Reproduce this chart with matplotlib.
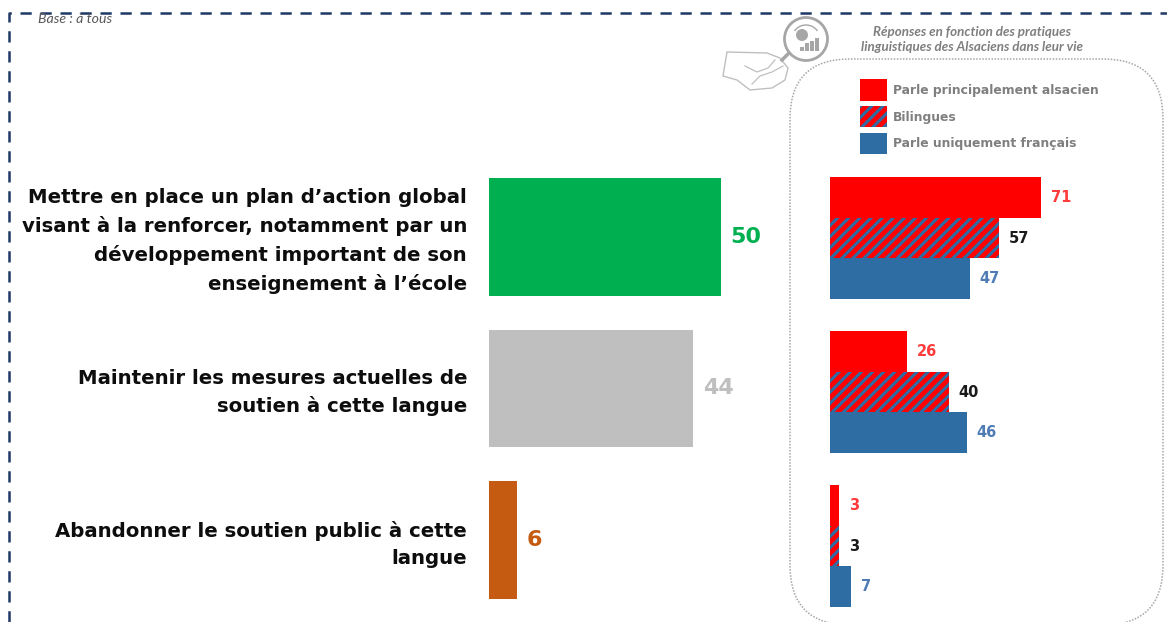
import matplotlib
matplotlib.use('Agg')
import matplotlib.pyplot as plt
from matplotlib.patches import Arc, Circle, PathPatch, Polygon, Rectangle
from matplotlib.path import Path

W, H = 1167, 622

# --- data ---
categories = [
    "Mettre en place un plan d’action global\nvisant à la renforcer, notamment par un\ndéveloppement important de son\nenseignement à l’école",
    "Maintenir les mesures actuelles de\nsoutien à cette langue",
    "Abandonner le soutien public à cette\nlangue",
]
totals = [50, 44, 6]
total_colors = ['#00B050', '#BFBFBF', '#C55A11']

groups = ['Parle principalement alsacien', 'Bilingues', 'Parle uniquement français']
alsacien = [71, 26, 3]
bilingues = [57, 40, 3]
francais = [47, 46, 7]

RED = '#FF0000'
BLUE = '#2E6DA4'
GREY = '#7F7F7F'
plt.rcParams['hatch.linewidth'] = 2.2


def px_axes(fig, x0, y0, x1, y1):
    # axes from pixel box (y from the top)
    return fig.add_axes([x0 / W, 1 - y1 / H, (x1 - x0) / W, (y1 - y0) / H])


fig = plt.figure(figsize=(W / 100, H / 100), dpi=100)

# overlay in pixels for frame and decoration
bg = px_axes(fig, 0, 0, W, H)
bg.set_xlim(0, W)
bg.set_ylim(H, 0)
bg.axis('off')
bg.plot([9, 9, W], [H, 13, 13], color='#1F3864', lw=1.8, dashes=(4.5, 3.5), clip_on=False)
bg.text(38, 19, 'Base : à tous', fontsize=10.2, style='italic', color='#595959',
        family='Lato', va='center')
bg.text(972, 32, 'Réponses en fonction des pratiques', fontsize=9.6, style='italic', weight='bold',
        color=GREY, family='Lato', ha='center', va='center')
bg.text(972, 47, 'linguistiques des Alsaciens dans leur vie', fontsize=9.6, style='italic', weight='bold',
        color=GREY, family='Lato', ha='center', va='center')

# rounded dotted box, open at the bottom edge of the figure
l, t, r, b, rad = 790, 59, 1163, 625, 60
verts = [(l + rad, b), (l, b), (l, b - rad), (l, t + rad), (l, t), (l + rad, t), (r - rad, t),
         (r, t), (r, t + rad), (r, b - rad), (r, b), (r - rad, b)]
codes = [Path.MOVETO, Path.CURVE3, Path.CURVE3, Path.LINETO, Path.CURVE3, Path.CURVE3, Path.LINETO,
         Path.CURVE3, Path.CURVE3, Path.LINETO, Path.CURVE3, Path.CURVE3]
bg.add_patch(PathPatch(Path(verts, codes), fc='none', ec='#A6A6A6', lw=1.1, ls=(0, (1, 1))))

# loupe and hand icon
bg.add_patch(Polygon([(723, 76), (727, 52), (767, 53), (780, 58), (788, 68), (785, 80),
                      (772, 88), (750, 90), (737, 80)],
                     fc='white', ec='#BFBFBF', lw=1))
bg.plot([745, 757, 768, 775], [66, 72, 68, 60], color='#BFBFBF', lw=0.9)
bg.plot([752, 760, 772, 783], [84, 76, 72, 66], color='#BFBFBF', lw=0.9)
bg.plot([782, 789], [60, 53], color='#A6A6A6', lw=2.5)
bg.add_patch(Circle((806, 39), 21.5, fc='white', ec='#A6A6A6', lw=2))
bg.add_patch(Circle((802, 35), 6, fc='#A6A6A6', ec='none'))
bg.add_patch(Arc((806, 39), 28, 28, theta1=215, theta2=325, color='#A6A6A6', lw=1))
for bx, bh in zip([800, 805, 810, 815], [4, 8, 10, 13]):
    bg.add_patch(Rectangle((bx, 51 - bh), 3.5, bh, fc='#A6A6A6', ec='none'))

# main bars
ax = px_axes(fig, 489, 161, 1000, 616)
ax.patch.set_alpha(0)
y = [0, 1, 2]
ax.barh(y, totals, height=0.775, color=total_colors)
ax.set_xlim(0, 511 / 4.64)
ax.set_ylim(2.5, -0.5)
ax.axis('off')
for i, v in enumerate(totals):
    ax.annotate(str(v), (v, i), xytext=(9.5, 0), textcoords='offset pixels', color=total_colors[i],
                fontsize=16, weight='bold', va='center')
    ax.annotate(categories[i], (0, i), xytext=(-22, -4), textcoords='offset pixels', ha='right',
                va='center', fontsize=14.2, weight='bold', color='#0D0D0D', linespacing=1.55,
                multialignment='right')

# breakdown bars
ax2 = px_axes(fig, 830, 161, 1160, 623)
ax2.patch.set_alpha(0)
h = 0.266
b1 = ax2.barh([i - h for i in y], alsacien, height=h, color=RED, label=groups[0])
b2 = ax2.barh(y, bilingues, height=h, color=RED, edgecolor=BLUE, hatch='///', lw=0, label=groups[1])
b3 = ax2.barh([i + h for i in y], francais, height=h, color=BLUE, label=groups[2])
ax2.set_xlim(0, 330 / 2.97)
ax2.set_ylim(2.5, -0.5)
ax2.axis('off')
label_colors = ['#FF3B3B', '#1A1A1A', '#4F7CB5']
for vals, off, c in zip([alsacien, bilingues, francais], [-h, 0, h], label_colors):
    for i, v in enumerate(vals):
        ax2.annotate(str(v), (v, i + off), xytext=(10, 0), textcoords='offset pixels', color=c,
                     fontsize=10.5, weight='bold', va='center')

leg = fig.legend(handles=[b1, b2, b3], loc='upper left', bbox_to_anchor=(860 / W, 1 - 79 / H),
                 frameon=False, fontsize=8.95, handlelength=2.2, handleheight=2.3,
                 labelspacing=0.42, handletextpad=0.42, borderpad=0, borderaxespad=0)
for t in leg.get_texts():
    t.set_color(GREY)
    t.set_fontweight('bold')

fig.savefig('out.png', dpi=100)
